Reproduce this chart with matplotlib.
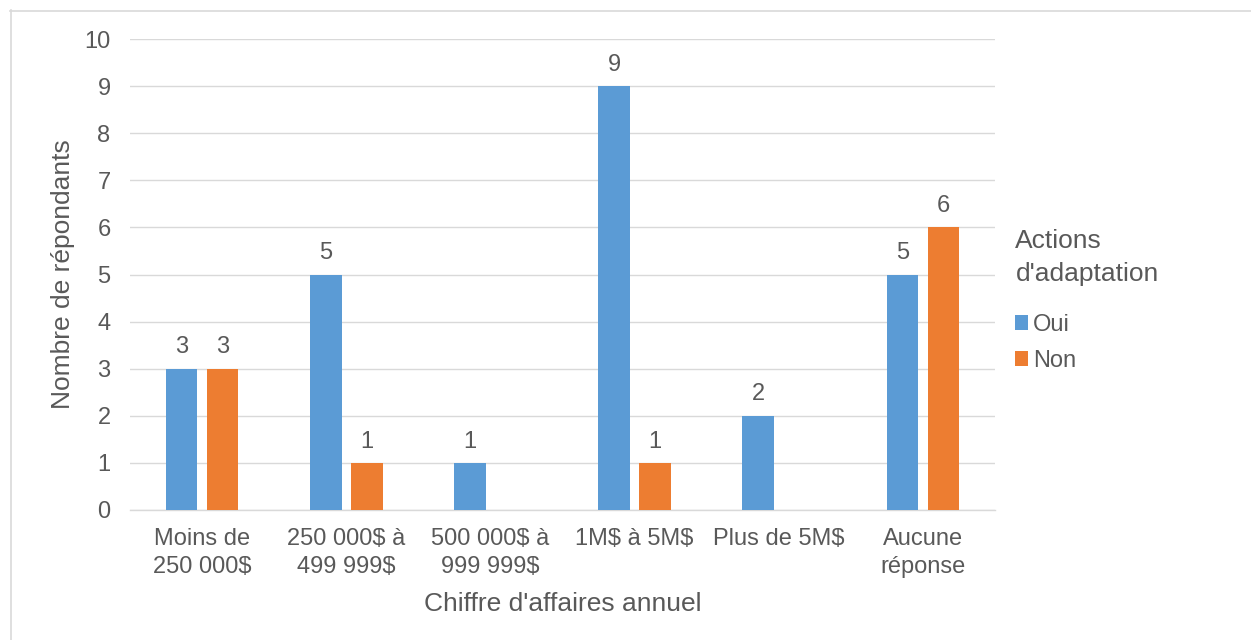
import numpy as np
import matplotlib
matplotlib.use('Agg')
import matplotlib.pyplot as plt
from matplotlib.lines import Line2D
from matplotlib.patches import Patch

categories = ['Moins de\n250 000$', '250 000$ à\n499 999$', '500 000$ à\n999 999$',
              '1M$ à 5M$', 'Plus de 5M$', 'Aucune\nréponse']
oui = [3, 5, 1, 9, 2, 5]
non = [3, 1, np.nan, 1, np.nan, 6]
series_names = ['Oui', 'Non']
colors = ['#5B9BD5', '#ED7D31']
text_color = '#595959'

plt.rcParams['font.family'] = ['Liberation Sans', 'DejaVu Sans']
plt.rcParams['text.parse_math'] = False

fig = plt.figure(figsize=(12.51, 6.4), dpi=100)
ax = fig.add_axes([130 / 1251, 1 - 510 / 640, 865 / 1251, 471 / 640])

x = np.arange(len(categories))
width = 0.22
offset = 0.142
for vals, off, col in zip([oui, non], [-offset, offset], colors):
    bars = ax.bar(x + off, vals, width, color=col, zorder=3)
    for b, v in zip(bars, vals):
        if not np.isnan(v):
            ax.text(b.get_x() + b.get_width() / 2, v + 0.22, f'{int(v)}',
                    ha='center', va='bottom', fontsize=17, color=text_color)

ax.set_xlim(-0.5, len(categories) - 0.5)
ax.set_ylim(0, 10)
ax.set_yticks(range(0, 11))
ax.set_xticks(x)
ax.set_xticklabels(categories, linespacing=1.35)
ax.yaxis.grid(True, color='#D9D9D9', linewidth=1, zorder=0)
for s in ['top', 'right', 'left']:
    ax.spines[s].set_visible(False)
ax.spines['bottom'].set_color('#D9D9D9')
ax.spines['bottom'].set_linewidth(1)
ax.tick_params(axis='both', length=0, labelsize=17, labelcolor=text_color)
ax.tick_params(axis='x', pad=13)
ax.tick_params(axis='y', pad=14)

ax.set_xlabel("Chiffre d'affaires annuel", fontsize=19, color=text_color, labelpad=10)
ax.set_ylabel('Nombre de répondants', fontsize=19, color=text_color, labelpad=7)

handles = [Patch(facecolor=c, edgecolor='none') for c in colors]
leg = fig.legend(handles, series_names, title="Actions\nd'adaptation",
                 loc='upper left', bbox_to_anchor=(1006 / 1251, 1 - 220 / 640),
                 frameon=False, fontsize=17, title_fontsize=19,
                 handlelength=0.55, handleheight=0.55, handletextpad=0.2,
                 labelspacing=0.6, borderaxespad=0)
leg._legend_box.align = 'left'
leg._legend_box.sep = 20
leg.get_title().set_color(text_color)
leg.get_title().set_linespacing(1.45)
for t in leg.get_texts():
    t.set_color(text_color)

# light outer border of the chart area
fig.add_artist(Line2D([10 / 1251, 1], [1 - 10.5 / 640, 1 - 10.5 / 640],
                      transform=fig.transFigure, color='#D9D9D9', linewidth=1.2))
fig.add_artist(Line2D([10.5 / 1251, 10.5 / 1251], [0, 1 - 10 / 640],
                      transform=fig.transFigure, color='#D9D9D9', linewidth=1.2))

fig.savefig('out.png', dpi=100, facecolor='white')
